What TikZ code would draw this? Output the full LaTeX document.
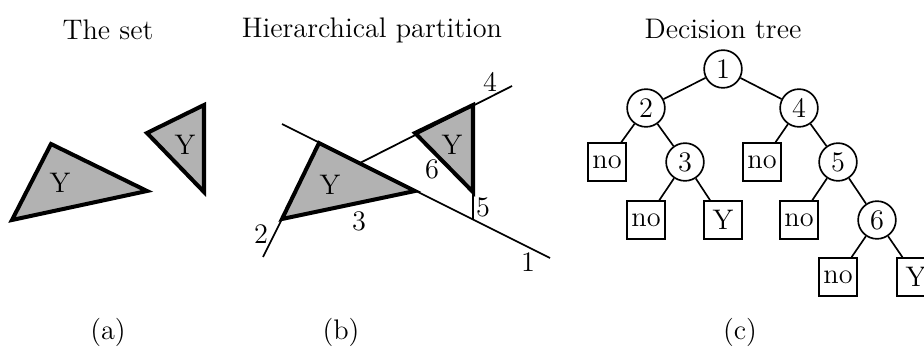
\documentclass[12pt,tikz,border=0pt]{standalone}
\begin{document}
\begin{tikzpicture}[x=0.424pt, y=-0.424pt,
        tri/.style={fill=black!30, draw=black, line width=1.7pt},
        cut/.style={line width=0.75pt},
        test/.style={circle, draw, line width=0.7pt, minimum size=16pt, inner sep=0pt},
        leaf/.style={rectangle, draw, line width=0.7pt, minimum size=16pt, inner sep=0pt}]
        \useasboundingbox (0,0) rectangle (924,349);

        % 1. Tap hop (a)
        \node[anchor=base] (titA) at (108,40) {The set};
        \draw[tri] (51,144) -- (147,191) -- (12,220) -- cycle;
        \draw[tri] (147,133) -- (204,105) -- (204,192) -- cycle;
        \node (yA1) at (60,183) {Y};
        \node (yA2) at (185,145) {Y};
        \node[anchor=base] (capA) at (108,340) {(a)};

        % 2. Phan hoach (b)
        \node[anchor=base] (titB) at (372,38) {Hierarchical partition};
        \draw[tri] (319,143) -- (415,191) -- (282,219) -- cycle;
        \draw[tri] (415,133) -- (473,105) -- (473,192) -- cycle;
        \draw[cut] (282,124) -- (550,258);
        \draw[cut] (263,257) -- (282,219);
        \draw[cut] (360,163) -- (512,86);
        \draw[cut] (473,192) -- (473,219.5);
        \node (yB1) at (330,185) {Y};
        \node (yB2) at (452,145) {Y};
        \node (c1) at (528,262) {1};
        \node (c2) at (261,234) {2};
        \node (c3) at (359,221) {3};
        \node (c4) at (490,82) {4};
        \node (c5) at (483,207) {5};
        \node (c6) at (432,169) {6};
        \node[anchor=base] (capB) at (341,340) {(b)};

        % 3. Cay quyet dinh (c)
        \node[anchor=base] (titC) at (723,39) {Decision tree};
        \node[test] (t1) at (723,69) {1};
        \node[test] (t2) at (646,108) {2};
        \node[test] (t4) at (799,108) {4};
        \node[leaf] (l2) at (607,162) {no};
        \node[test] (t3) at (685,162) {3};
        \node[leaf] (l4) at (762,162) {no};
        \node[test] (t5) at (838,162) {5};
        \node[leaf] (l3a) at (646,220) {no};
        \node[leaf] (l3b) at (723,220) {Y};
        \node[leaf] (l5) at (799,220) {no};
        \node[test] (t6) at (877,220) {6};
        \node[leaf] (l6a) at (838,277) {no};
        \node[leaf] (l6b) at (916,277) {Y};
        \foreach \a/\b in {t1/t2, t1/t4, t2/l2, t2/t3, t3/l3a, t3/l3b,
                t4/l4, t4/t5, t5/l5, t5/t6, t6/l6a, t6/l6b}
            \draw[line width=0.7pt] (\a) -- (\b);
        \node[anchor=base] (capC) at (740,340) {(c)};
\end{tikzpicture}
\end{document}
